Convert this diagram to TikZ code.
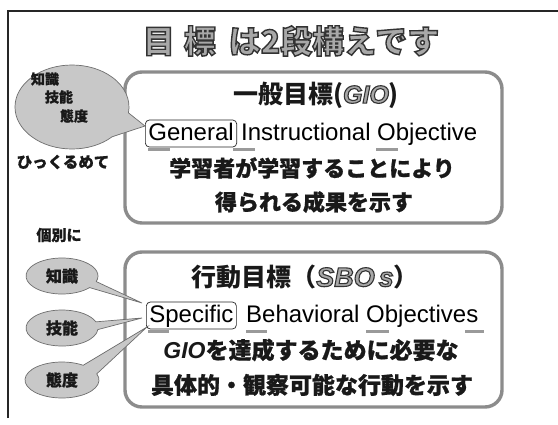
\documentclass[tikz,border=0pt]{standalone}
\usepackage{fontspec}
\usetikzlibrary{shapes.geometric}
\newfontfamily\jp{Noto Sans CJK JP}
\newfontfamily\jph{Noto Sans CJK JP}[BoldFeatures={FakeBold=0.8}]
\newfontfamily\lsans{Liberation Sans}
\definecolor{framegray}{HTML}{8C8C8C}
\definecolor{bubfill}{HTML}{C8C8C8}
\definecolor{bubline}{HTML}{6E6E6E}
\definecolor{titlefill}{HTML}{A8A8A8}
\definecolor{barcol}{HTML}{9A9A9A}
\newcommand\fs[1]{\fontsize{#1}{#1}\selectfont}
\newcommand\outl[2][1.2]{{\color{titlefill}\special{pdf:code 2 Tr #1 w 0.2 G}#2\special{pdf:code 0 Tr}}}
\tikzset{
 bigbox/.style={draw=framegray, line width=3.4pt, rounded corners=17pt, inner sep=0},
 jptext/.style={inner sep=0, font=\jph\bfseries, text=black!90},
 headtext/.style={inner sep=0, font=\jp\bfseries, text=black!90},
 latin/.style={inner sep=0, anchor=base west, font=\lsans\fs{24}},
 wordbox/.style={draw=black!85, line width=0.7pt, rounded corners=4pt, inner xsep=3pt, inner ysep=2pt, anchor=base west, font=\lsans\fs{24}, text height=18pt, text depth=5pt},
 bar/.style={draw=barcol, line width=3pt},
 bubble/.style={fill=bubfill, draw=bubline, line width=0.7pt},
}
\begin{document}
\begin{tikzpicture}[x=1pt,y=-1pt]
\useasboundingbox (0,0) rectangle (558,424);
\fill[white] (0,0) rectangle (558,424);
% frame
\draw[line width=1.6pt, black!85] (8,418) -- (8,11) -- (558,11);
% title
\node[headtext] (title) at (291,41) {\fs{32}\outl[1.4]{目\hspace{9pt}標\hspace{13pt}は2段構えです}};
% boxes
\node[bigbox, minimum width=377pt, minimum height=151pt] (topbox) at (313.5,147.5) {};
\node[bigbox, minimum width=377pt, minimum height=155pt] (botbox) at (313.5,329.5) {};
% top bubble
\coordinate (tip0) at (145,126);
\path[bubble] (72,107) ++(45:57 and 42) arc[start angle=45, end angle=368, x radius=57, y radius=42] -- (tip0) -- cycle;
\node[jptext] (k1) at (45,79) {\fs{14}知識};
\node[jptext] (k2) at (59,97) {\fs{14}技能};
\node[jptext] (k3) at (74,116) {\fs{14}態度};
% left notes
\node[jptext] (hk) at (63,162) {\fs{15.5}ひっくるめて};
\node[jptext] (kb) at (59,235) {\fs{15}個別に};
% small bubbles
\coordinate (tipA) at (142,303);
\coordinate (tipB) at (142,318);
\coordinate (tipC) at (147,327);
\path[bubble] (62,276) ++(40:36 and 18) arc[start angle=40, end angle=378, x radius=36, y radius=18] -- (tipA) -- cycle;
\path[bubble] (62,328) ++(5:36 and 18) arc[start angle=5, end angle=340, x radius=36, y radius=18] -- (tipB) -- cycle;
\path[bubble] (62,380) ++(-20:37 and 18) arc[start angle=-20, end angle=305, x radius=37, y radius=18] -- (tipC) -- cycle;
\node[jptext] (s1) at (62,276) {\fs{16}知識};
\node[jptext] (s2) at (62,328) {\fs{16}技能};
\node[jptext] (s3) at (62,380) {\fs{16}態度};
% top box content
\node[headtext] (h1) at (316,95) {\fs{25}一般目標({\lsans\itshape\outl[1.1]{GIO}})};
\node[wordbox] (gen) at (145,140) {General};
\node[latin] (ins) at (241,140) {Instructional Objective};
\draw[bar] (148,149) -- (170,149);
\draw[bar] (233,149) -- (255,149);
\draw[bar] (376,149) -- (398,149);
\node[jptext] (l1) at (312,168) {\fs{22}学習者が学習することにより};
\node[jptext] (l2) at (314,202) {\fs{22}得られる成果を示す};
% bottom box content
\node[headtext] (h2) at (305,277) {\fs{25}行動目標（{\lsans\itshape\fs{27}\outl[1.1]{SBO\hspace{4pt}s}}）};
\node[wordbox] (spe) at (146,322) {Specific};
\node[latin] (beh) at (246,322) {Behavioral Objectives};
\draw[bar] (148,331) -- (169,331);
\draw[bar] (246,331) -- (267,331);
\draw[bar] (366,331) -- (389,331);
\draw[bar] (465,331) -- (484,331);
\node[jptext] (l3) at (311,350) {\fs{23}{\lsans\itshape GIO}を達成するために必要な};
\node[jptext] (l4) at (312,385) {\fs{23}具体的・観察可能な行動を示す};
\end{tikzpicture}
\end{document}
